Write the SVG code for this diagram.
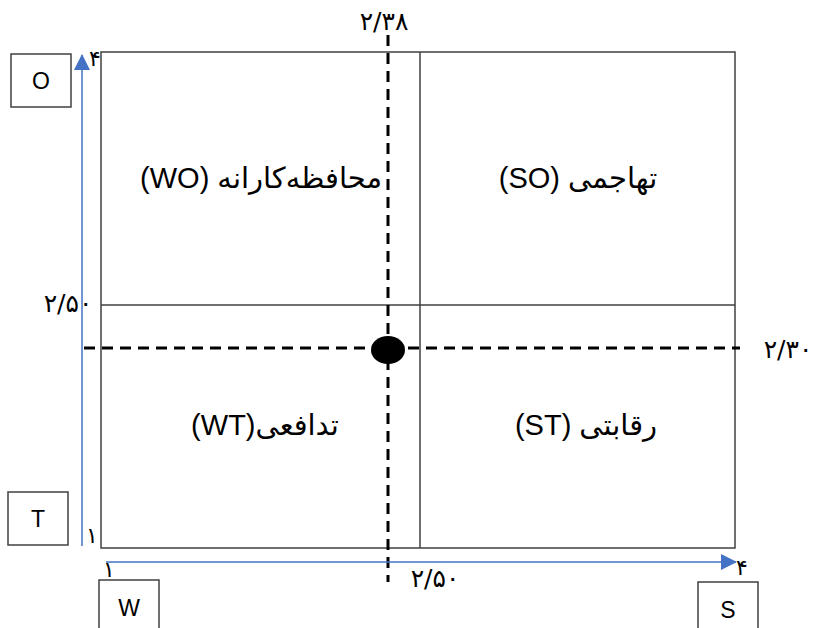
<svg xmlns="http://www.w3.org/2000/svg" width="814" height="628" viewBox="0 0 814 628">
<style>
.frame{fill:none;stroke:#404040;stroke-width:1.5}
.box{fill:#fff;stroke:#404040;stroke-width:1.5}
.dash{fill:none;stroke:#000;stroke-width:3;stroke-dasharray:11 7}
.lbl{font-family:"Liberation Sans","DejaVu Sans",sans-serif;font-size:23px;fill:#000;text-anchor:middle}
.quad{font-family:"Liberation Sans","DejaVu Sans",sans-serif;font-size:29px;fill:#000;text-anchor:middle}
.num{font-family:"DejaVu Sans",sans-serif;font-size:25px;fill:#000;text-anchor:middle}
.tick{font-family:"DejaVu Sans",sans-serif;font-size:22px;fill:#000;text-anchor:middle}
</style>
<rect width="814" height="628" fill="#fff"/>
<g id="matrix">
<rect class="frame" x="101" y="52" width="634" height="496"/>
<line class="frame" x1="420" y1="52" x2="420" y2="548"/>
<line class="frame" x1="101" y1="305" x2="735" y2="305"/>
</g>
<g id="quadrants">
<text class="quad" x="261" y="188" direction="rtl">محافظه‌کارانه (WO)</text>
<text class="quad" x="578" y="188" direction="rtl">تهاجمی (SO)</text>
<text class="quad" x="265" y="435" direction="rtl">تدافعی(WT)</text>
<text class="quad" x="586" y="435" direction="rtl">رقابتی (ST)</text>
</g>
<g id="connectors">
<line class="dash" x1="388" y1="35" x2="388" y2="582"/>
<line class="dash" x1="84" y1="348" x2="740" y2="348"/>
<path d="M82,546 L82,55" stroke="#4472C4" stroke-width="1.5" fill="none"/>
<path d="M74,70 L82,54 L90,70 z" fill="#4472C4"/>
<path d="M106,562 L736,562" stroke="#4472C4" stroke-width="1.5" fill="none"/>
<path d="M721,554 L737,562 L721,570 z" fill="#4472C4"/>
</g>
<g id="point">
<ellipse cx="388" cy="350" rx="17" ry="14" fill="#000"/>
</g>
<g id="box-O"><rect class="box" x="11" y="54" width="60" height="53"/><text class="lbl" x="41" y="89">O</text></g>
<g id="box-T"><rect class="box" x="8" y="492" width="60" height="53"/><text class="lbl" x="38" y="527">T</text></g>
<g id="box-W"><rect class="box" x="99" y="580" width="60" height="60"/><text class="lbl" x="129" y="616">W</text></g>
<g id="box-S"><rect class="box" x="698" y="582" width="60" height="60"/><text class="lbl" x="728" y="618">S</text></g>
<g id="values">
<text class="num" x="384" y="30">۲/۳۸</text>
<text class="num" x="68" y="312">۲/۵۰</text>
<text class="num" x="788" y="358">۲/۳۰</text>
<text class="num" x="435" y="587">۲/۵۰</text>
<text class="tick" x="95" y="66">۴</text>
<text class="tick" x="92" y="543">۱</text>
<text class="tick" x="109" y="577">۱</text>
<text class="tick" x="742" y="575">۴</text>
</g>
</svg>
